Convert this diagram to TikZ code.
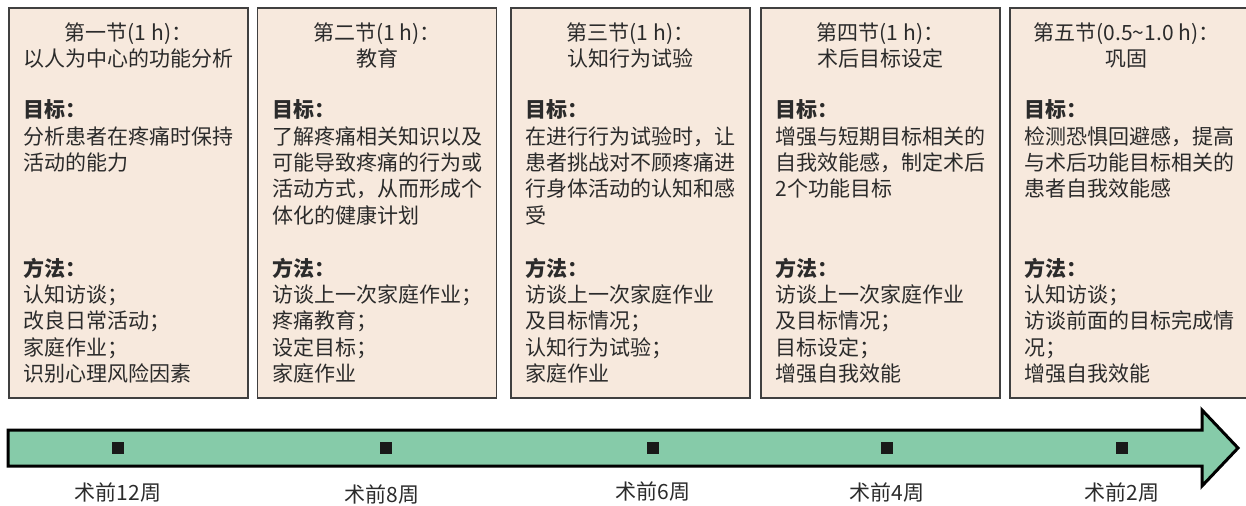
\documentclass[tikz,border=0pt]{standalone}
\usepackage{fontspec}
\usepackage{xcolor}
\newfontfamily\cjk{Noto Sans CJK SC}
\usetikzlibrary{positioning}
\definecolor{panelfill}{HTML}{F7E9DD}
\definecolor{arrowfill}{HTML}{86CBA9}
\definecolor{inkgray}{HTML}{2B2B2B}

\begin{document}
\begin{tikzpicture}[x=0.5pt, y=-0.5pt,
  every node/.style={font=\cjk\fontsize{10.5}{13.2}\selectfont, text=inkgray},
  panel/.style={draw=black!75, line width=0.7pt, fill=panelfill,
    minimum width=119.5pt, minimum height=195pt, inner sep=0pt},
  head/.style={align=center, inner sep=0pt},
  body/.style={align=left, inner sep=0pt},
  tick/.style={fill=black!90, minimum size=6pt, inner sep=0pt},
  week/.style={inner sep=0pt}]
  \useasboundingbox (0,0) rectangle (1246,505);
  % sessions
  \node[panel] (s1) at (128.5,203) {};
  \node[head, below=7.5pt of s1.north] (s1h) {第一节(1 h)：\\以人为中心的功能分析};
  \node[body, below right=46pt and 7.5pt of s1.north west] (s1g)
    {\textbf{目标：}\\分析患者在疼痛时保持\\活动的能力};
  \node[body, below right=125pt and 7.5pt of s1.north west] (s1m)
    {\textbf{方法：}\\认知访谈；\\改良日常活动；\\家庭作业；\\识别心理风险因素};

  \node[panel] (s2) at (377,203) {};
  \node[head, below=7.5pt of s2.north] (s2h) {第二节(1 h)：\\教育};
  \node[body, below right=46pt and 7.5pt of s2.north west] (s2g)
    {\textbf{目标：}\\了解疼痛相关知识以及\\可能导致疼痛的行为或\\活动方式，从而形成个\\体化的健康计划};
  \node[body, below right=125pt and 7.5pt of s2.north west] (s2m)
    {\textbf{方法：}\\访谈上一次家庭作业；\\疼痛教育；\\设定目标；\\家庭作业};

  \node[panel] (s3) at (630.5,203) {};
  \node[head, below=7.5pt of s3.north] (s3h) {第三节(1 h)：\\认知行为试验};
  \node[body, below right=46pt and 7.5pt of s3.north west] (s3g)
    {\textbf{目标：}\\在进行行为试验时，让\\患者挑战对不顾疼痛进\\行身体活动的认知和感\\受};
  \node[body, below right=125pt and 7.5pt of s3.north west] (s3m)
    {\textbf{方法：}\\访谈上一次家庭作业\\及目标情况；\\认知行为试验；\\家庭作业};

  \node[panel] (s4) at (880.5,203) {};
  \node[head, below=7.5pt of s4.north] (s4h) {第四节(1 h)：\\术后目标设定};
  \node[body, below right=46pt and 7.5pt of s4.north west] (s4g)
    {\textbf{目标：}\\增强与短期目标相关的\\自我效能感，制定术后\\2个功能目标};
  \node[body, below right=125pt and 7.5pt of s4.north west] (s4m)
    {\textbf{方法：}\\访谈上一次家庭作业\\及目标情况；\\目标设定；\\增强自我效能};

  \node[panel] (s5) at (1129.5,203) {};
  \node[head, below=7.5pt of s5.north, xshift=-1.5pt] (s5h) {第五节(0.5\textasciitilde1.0 h)：\\巩固};
  \node[body, below right=46pt and 7.5pt of s5.north west] (s5g)
    {\textbf{目标：}\\检测恐惧回避感，提高\\与术后功能目标相关的\\患者自我效能感};
  \node[body, below right=125pt and 7.5pt of s5.north west] (s5m)
    {\textbf{方法：}\\认知访谈；\\访谈前面的目标完成情\\况；\\增强自我效能};

  % time line
  \draw[line width=1.5pt, fill=arrowfill, line join=miter]
    (8,430) -- (1202,430) -- (1202,410) -- (1238,448) -- (1202,486)
    -- (1202,466) -- (8,466) -- cycle;
  \node[tick] (m1) at (118,448) {};
  \node[tick] (m2) at (386,448) {};
  \node[tick] (m3) at (653,448) {};
  \node[tick] (m4) at (887,448) {};
  \node[tick] (m5) at (1122,448) {};
  \node[week, below=14pt of m1] (w1) {术前12周};
  \node[week, below=15pt of m2, xshift=-2pt] (w2) {术前8周};
  \node[week, below=13.5pt of m3] (w3) {术前6周};
  \node[week, below=14pt of m4] (w4) {术前4周};
  \node[week, below=14pt of m5] (w5) {术前2周};
\end{tikzpicture}
\end{document}
